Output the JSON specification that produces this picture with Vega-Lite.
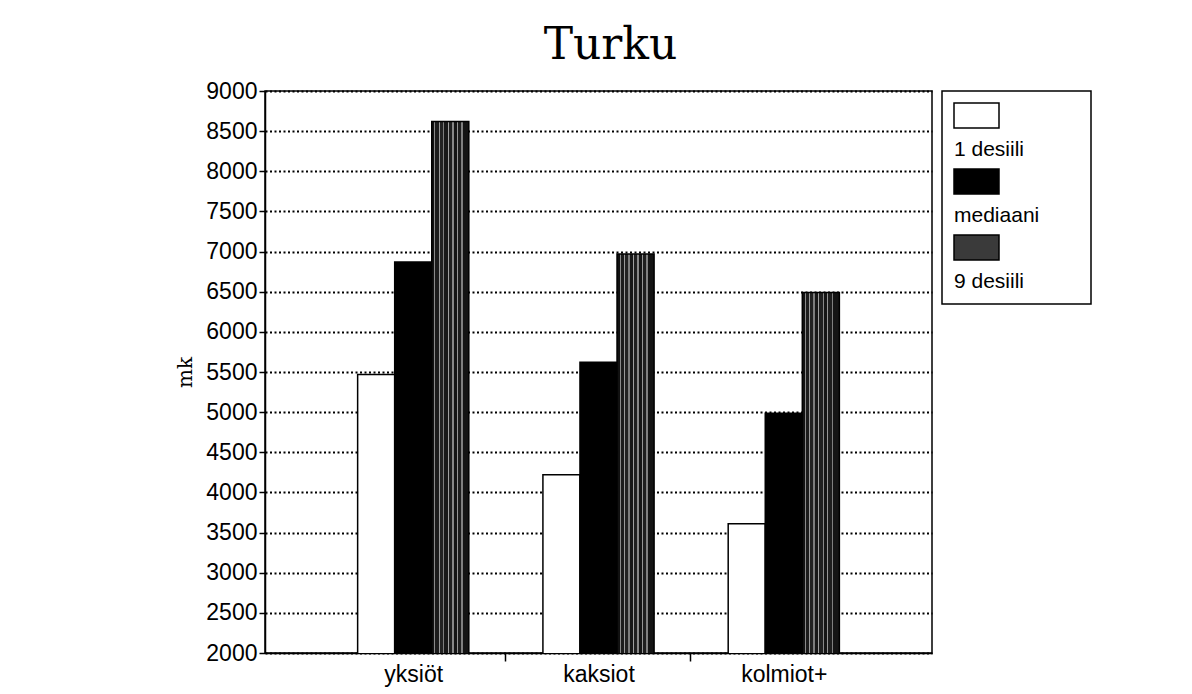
{
  "$schema": "https://vega.github.io/schema/vega-lite/v6.json",
  "autosize": {"type": "none"},
  "width": 667,
  "height": 562,
  "padding": {"left": 265, "top": 91, "right": 260, "bottom": 41},
  "background": "white",
  "title": {"text": "Turku", "font": "DejaVu Serif", "fontSize": 44, "fontWeight": "normal", "color": "black", "anchor": "middle", "dx": 12, "baseline": "alphabetic", "offset": -23},
  "data": {"values": [
    {"asunto": "yksiöt", "sarja": "1 desiili", "mk": 5470},
    {"asunto": "yksiöt", "sarja": "mediaani", "mk": 6870},
    {"asunto": "yksiöt", "sarja": "9 desiili", "mk": 8620},
    {"asunto": "kaksiot", "sarja": "1 desiili", "mk": 4220},
    {"asunto": "kaksiot", "sarja": "mediaani", "mk": 5620},
    {"asunto": "kaksiot", "sarja": "9 desiili", "mk": 6970},
    {"asunto": "kolmiot+", "sarja": "1 desiili", "mk": 3610},
    {"asunto": "kolmiot+", "sarja": "mediaani", "mk": 4985},
    {"asunto": "kolmiot+", "sarja": "9 desiili", "mk": 6490}
  ]},
  "mark": {"type": "bar", "stroke": "black", "strokeWidth": 1.5, "clip": true},
  "encoding": {
    "x": {
      "field": "asunto", "type": "nominal", "sort": ["yksiöt", "kaksiot", "kolmiot+"],
      "scale": {"paddingInner": 0.4, "paddingOuter": 0.5},
      "axis": {
        "title": null, "labelAngle": 0, "labelFont": "Liberation Sans", "labelFontSize": 23, "labelColor": "black",
        "labelPadding": 2, "tickColor": "black", "tickSize": 8, "tickWidth": 1.5,
        "domainColor": "black", "domainWidth": 1.5, "grid": false,
        "tickOffset": 92, "labelOffset": -92,
        "tickOpacity": {"condition": {"test": "datum.value === 'kolmiot+'", "value": 0}, "value": 1}
      }
    },
    "xOffset": {"field": "sarja", "type": "nominal", "sort": ["1 desiili", "mediaani", "9 desiili"], "scale": {"paddingInner": 0, "paddingOuter": 0}},
    "y": {
      "field": "mk", "type": "quantitative",
      "scale": {"domain": [2000, 9000], "nice": false, "zero": false},
      "axis": {
        "title": "mk", "titleFont": "DejaVu Serif", "titleFontSize": 20, "titleFontWeight": "normal", "titleColor": "black", "titlePadding": 10,
        "labelFont": "Liberation Sans", "labelFontSize": 23, "labelColor": "black", "labelPadding": 2,
        "values": [2000, 2500, 3000, 3500, 4000, 4500, 5000, 5500, 6000, 6500, 7000, 7500, 8000, 8500, 9000],
        "format": "d", "tickColor": "black", "tickSize": 6, "tickWidth": 1.5,
        "domainColor": "black", "domainWidth": 1.5,
        "grid": true, "gridColor": "black", "gridDash": [2, 2.5], "gridWidth": 2, "gridOpacity": 1
      }
    },
    "fill": {
      "condition": {"test": "datum.sarja === '9 desiili'", "value": {"gradient": "linear", "x1": 0, "y1": 0, "x2": 1, "y2": 0, "stops": [
          {"offset": 0, "color": "#111111"}, {"offset": 0.07, "color": "#111111"},
          {"offset": 0.07, "color": "#8a8a8a"}, {"offset": 0.1, "color": "#8a8a8a"},
          {"offset": 0.1, "color": "#1c1c1c"}, {"offset": 0.19, "color": "#1c1c1c"},
          {"offset": 0.19, "color": "#9a9a9a"}, {"offset": 0.22, "color": "#9a9a9a"},
          {"offset": 0.22, "color": "#222222"}, {"offset": 0.3, "color": "#222222"},
          {"offset": 0.3, "color": "#7d7d7d"}, {"offset": 0.34, "color": "#7d7d7d"},
          {"offset": 0.34, "color": "#181818"}, {"offset": 0.43, "color": "#181818"},
          {"offset": 0.43, "color": "#a0a0a0"}, {"offset": 0.46, "color": "#a0a0a0"},
          {"offset": 0.46, "color": "#202020"}, {"offset": 0.55, "color": "#202020"},
          {"offset": 0.55, "color": "#888888"}, {"offset": 0.59, "color": "#888888"},
          {"offset": 0.59, "color": "#151515"}, {"offset": 0.67, "color": "#151515"},
          {"offset": 0.67, "color": "#959595"}, {"offset": 0.7, "color": "#959595"},
          {"offset": 0.7, "color": "#1e1e1e"}, {"offset": 0.79, "color": "#1e1e1e"},
          {"offset": 0.79, "color": "#808080"}, {"offset": 0.83, "color": "#808080"},
          {"offset": 0.83, "color": "#141414"}, {"offset": 1, "color": "#141414"}
        ]}},
      "field": "sarja", "type": "nominal", "sort": ["1 desiili", "mediaani", "9 desiili"],
      "scale": {
        "domain": ["1 desiili", "mediaani", "9 desiili"],
        "range": ["white", "black", "#3a3a3a"]
      },
      "legend": {
        "title": null, "orient": "right", "offset": 10,
        "strokeColor": "black", "fillColor": "white", "padding": 12,
        "symbolType": "M-1,-0.556H1V0.556H-1ZM4.4,0", "symbolSize": 2025,
        "symbolStrokeColor": "black", "symbolStrokeWidth": 1.5,
        "labelFont": "Liberation Sans", "labelFontSize": 21, "labelColor": "black", "rowPadding": 5,
        "encode": {
          "legend": {"update": {"strokeWidth": {"value": 1.5}}},
          "symbols": {"update": {
            "x": {"value": 22.5}, "y": {"value": 12.5},
            "stroke": {"value": "black"}, "strokeWidth": {"value": 1.5}, "opacity": {"value": 1},
            "fill": [
              {"test": "datum.value === '9 desiili'", "value": "#333333"},
              {"test": "datum.value === 'mediaani'", "value": "black"},
              {"value": "white"}
            ]
          }},
          "labels": {"update": {"x": {"value": 0}, "y": {"value": 47}, "align": {"value": "left"}, "baseline": {"value": "middle"}}}
        }
      }
    }
  },
  "config": {"view": {"stroke": "black", "strokeWidth": 1.5}}
}
